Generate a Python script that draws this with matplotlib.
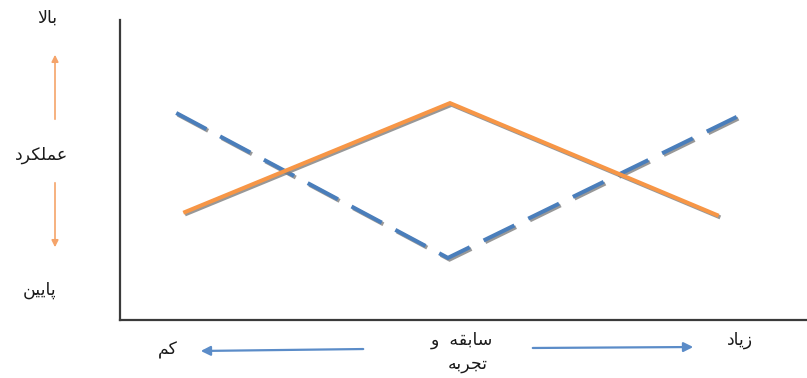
import matplotlib
matplotlib.use("Agg")
import matplotlib.pyplot as plt
import matplotlib.patheffects as pe

# Dane (oś x: sabeghe, oś y: amalkard), skala 0..10
amalkard_x = [0.95, 4.81, 8.70]
amalkard_y = [3.6, 7.23, 3.5]
dashed_x = [0.82, 4.78, 8.99]
dashed_y = [6.9, 2.07, 6.77]

# Etykiety po persku (formy prezentacyjne, kolejnosc wizualna od lewej)
lbl_bala = "\uFEFB\uFE8E\uFE91"                      # بالا
lbl_amalkard = "\uFEA9\uFEAE\uFB91\uFEE0\uFEE4\uFECB"  # عملکرد
lbl_payin = "\uFEE6\uFBFF\uFBFE\uFE8E\uFB58"           # پایین
lbl_kam = "\uFEE2\uFB90"                               # کم
lbl_sabeghe = "\uFEED  \uFEEA\uFED8\uFE91\uFE8E\uFEB3"   # سابقه و
lbl_tajrobe = "\uFEEA\uFE91\uFEAE\uFEA0\uFE97"           # تجربه
lbl_ziad = "\uFEA9\uFE8E\uFBFE\uFEAF"                  # زیاد

W, H = 807, 378
fig = plt.figure(figsize=(W / 100, H / 100), dpi=100)

ax = fig.add_axes([120 / W, (H - 320) / H, (806 - 120) / W, (320 - 20) / H])
ax.set_xlim(0, 10)
ax.set_ylim(0, 10)
for s in ["top", "right"]:
    ax.spines[s].set_visible(False)
for s in ["left", "bottom"]:
    ax.spines[s].set_color("#3a3a3a")
    ax.spines[s].set_linewidth(1.6)
ax.set_xticks([])
ax.set_yticks([])

cien = [pe.SimpleLineShadow(offset=(1.2, -1.2), shadow_color="#7f7f7f", alpha=0.8), pe.Normal()]
ax.plot(dashed_x, dashed_y, color="#4a7ebb", lw=2.9, linestyle=(0, (8.5, 3.83)),
        solid_joinstyle="miter", dash_joinstyle="miter", path_effects=cien)
ax.plot(amalkard_x, amalkard_y, color="#f79646", lw=2.9, solid_joinstyle="miter",
        path_effects=cien)

# Warstwa na opisy i strzalki (wspolrzedne w pikselach)
ov = fig.add_axes([0, 0, 1, 1], facecolor="none")
ov.set_xlim(0, W)
ov.set_ylim(H, 0)
ov.axis("off")

kol_tekst = "#1a1a1a"
fs = 12.5
ov.text(47, 18, lbl_bala, ha="center", va="center", fontsize=fs, color=kol_tekst)
ov.text(42, 155, lbl_amalkard, ha="center", va="center", fontsize=fs, color=kol_tekst)
ov.text(40, 290, lbl_payin, ha="center", va="center", fontsize=fs, color=kol_tekst)
ov.text(168, 350, lbl_kam, ha="center", va="center", fontsize=fs, color=kol_tekst)
ov.text(462, 340, lbl_sabeghe, ha="center", va="center", fontsize=fs, color=kol_tekst)
ov.text(468, 364, lbl_tajrobe, ha="center", va="center", fontsize=fs, color=kol_tekst)
ov.text(740, 340, lbl_ziad, ha="center", va="center", fontsize=fs, color=kol_tekst)

# strzalki
ov.annotate("", xy=(55, 52), xytext=(55, 122),
            arrowprops=dict(arrowstyle="-|>", color="#f5a46a", lw=1.2, mutation_scale=10))
ov.annotate("", xy=(55, 250), xytext=(55, 180),
            arrowprops=dict(arrowstyle="-|>", color="#f5a46a", lw=1.2, mutation_scale=10))
ov.annotate("", xy=(198, 351), xytext=(366, 349),
            arrowprops=dict(arrowstyle="-|>", color="#5b8cc8", lw=1.6, mutation_scale=14))
ov.annotate("", xy=(696, 347), xytext=(530, 348),
            arrowprops=dict(arrowstyle="-|>", color="#5b8cc8", lw=1.6, mutation_scale=14))

fig.savefig("out.png", dpi=100)
